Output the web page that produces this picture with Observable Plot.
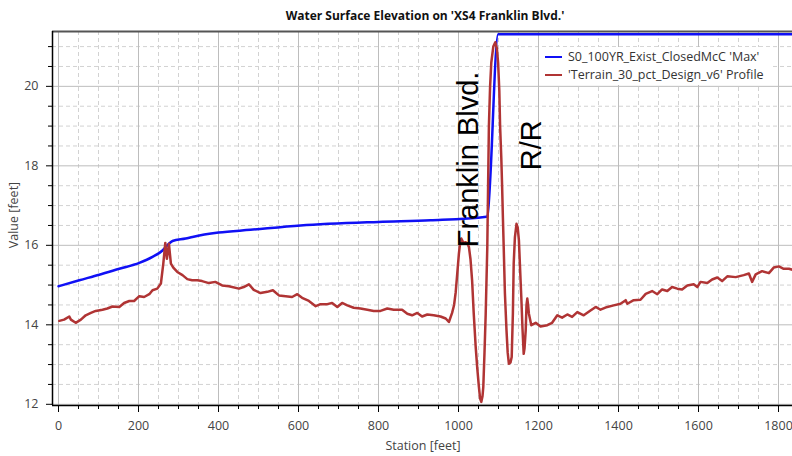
<!DOCTYPE html>
<html><head><meta charset="utf-8">
<script src="https://cdn.jsdelivr.net/npm/d3@7"></script>
<script src="https://cdn.jsdelivr.net/npm/@observablehq/plot@0.6"></script>
<style>
body{margin:0;background:#fff;}
#wrap{position:relative;width:792px;height:456px;overflow:hidden;font-family:"Open Sans",sans-serif;background:#fff;}
#title{position:absolute;left:0;width:850px;top:8px;text-align:center;font-weight:bold;font-size:12px;color:#111;line-height:16px;}
#chart{position:absolute;left:0;top:24px;}
#ylab{position:absolute;left:13px;top:215px;transform:translate(-50%,-50%) rotate(-90deg);font-size:12.5px;color:#444;white-space:nowrap;}
#xlab{position:absolute;left:423px;top:445px;transform:translate(-50%,-50%);font-size:12.5px;color:#444;white-space:nowrap;}
#legend{position:absolute;left:541px;top:47px;background:#fff;padding:1px 6px 1px 4px;font-size:12.5px;color:#333;line-height:18px;}
.row{display:flex;align-items:center;white-space:nowrap;}
.sw{width:17px;height:0;border-top:2.5px solid;margin-right:6px;}
</style></head>
<body><div id="wrap">
<div id="title">Water Surface Elevation on 'XS4 Franklin Blvd.'</div>
<div id="chart"></div>
<div id="ylab">Value [feet]</div>
<div id="xlab">Station [feet]</div>
<div id="legend"></div>
</div>
<script>
const seriesNames = ["S0_100YR_Exist_ClosedMcC 'Max'", "'Terrain_30_pct_Design_v6' Profile"];
const seriesColors = ["#1010f5", "#b03434"];

const wseStation = [0,52,102,152,202,235,260,272,285,318,335,400,480,605,800,930,1070,1072,1099,1840];
const wseValue   = [14.97,15.12,15.26,15.41,15.56,15.71,15.87,16.0,16.11,16.17,16.21,16.32,16.39,16.50,16.59,16.63,16.72,16.73,21.31,21.31];

const terrainStation = [2,14,27,31,43,56,68,81,93,110,122,135,152,164,177,189,202,214,227,235,247,256,262,267,271,276,281,287,297,310,322,334,347,359,376,392,409,426,451,463,476,488,505,522,536,551,568,584,597,609,626,643,655,672,684,697,709,722,738,755,772,788,805,822,838,859,872,884,897,909,922,938,955,968,976,984,989,993,997,1001,1004,1007,1013,1018,1022,1026,1030,1034,1038,1043,1047,1051,1054,1057,1060,1062,1065,1068,1072,1074,1076,1079,1082,1087,1092,1096,1099,1102,1104,1107,1109,1111,1113,1116,1120,1123,1126,1130,1133,1136,1138,1141,1145,1148,1151,1154,1157,1160,1163,1165,1168,1170,1172,1174,1176,1182,1193,1205,1222,1234,1247,1259,1272,1284,1297,1313,1330,1343,1355,1372,1388,1405,1418,1422,1438,1455,1468,1484,1497,1509,1522,1534,1547,1559,1572,1588,1597,1605,1622,1634,1647,1659,1672,1693,1713,1726,1734,1743,1759,1776,1788,1801,1813,1826,1840];
const terrainValue = [14.10,14.13,14.21,14.13,14.05,14.13,14.24,14.30,14.35,14.38,14.41,14.46,14.45,14.55,14.60,14.60,14.72,14.70,14.77,14.87,14.91,15.04,15.54,16.06,15.66,16.04,15.54,15.44,15.33,15.25,15.15,15.12,15.12,15.10,15.05,15.08,14.99,14.97,14.91,14.95,15.02,14.88,14.80,14.83,14.87,14.74,14.72,14.70,14.77,14.68,14.60,14.47,14.52,14.52,14.55,14.45,14.55,14.49,14.43,14.41,14.38,14.35,14.35,14.41,14.38,14.38,14.28,14.24,14.30,14.21,14.26,14.24,14.21,14.16,14.07,14.30,14.50,14.82,15.30,15.79,16.05,16.17,16.05,16.08,16.05,15.96,15.65,15.12,14.30,13.44,12.90,12.44,12.15,12.06,12.20,12.44,13.30,14.28,15.96,17.50,19.0,20.0,20.6,21.0,21.11,20.95,20.6,19.9,19.0,18.2,17.5,16.7,15.96,14.8,13.86,13.30,13.02,13.05,13.19,14.30,15.54,16.20,16.54,16.45,16.13,15.40,14.70,13.90,13.27,13.40,13.86,14.50,14.66,14.50,14.28,13.99,14.05,13.96,13.99,14.05,14.24,14.18,14.26,14.20,14.32,14.24,14.36,14.45,14.38,14.45,14.49,14.53,14.62,14.53,14.62,14.63,14.78,14.85,14.77,14.89,14.85,14.95,14.91,14.89,14.99,15.02,14.95,15.08,15.05,15.14,15.19,15.10,15.22,15.20,15.25,15.29,15.08,15.27,15.35,15.30,15.44,15.47,15.41,15.41,15.37];

const annLabels = ["Franklin Blvd.", "R/R"];
const annStation = [1026, 1182];
const annValue = [18.16, 18.52];

const xMajorTicks = [0,200,400,600,800,1000,1200,1400,1600,1800];
const xMinorTicks = d3.range(0, 1801, 50).filter(v => v % 200 !== 0);
const yMajorTicks = [12,14,16,18,20];
const yMinorTicks = d3.range(12.5, 21.01, 0.5).filter(v => v % 2 !== 0);

const xDomain = [-15, 1835];
const yDomain = [11.97, 21.38];

const wse = wseStation.map((s, i) => ({s, v: wseValue[i]}));
const terrain = terrainStation.map((s, i) => ({s, v: terrainValue[i]}));
const ann = annLabels.map((t, i) => ({t, s: annStation[i], v: annValue[i]}));

const chart = Plot.plot({
  width: 792, height: 432,
  marginLeft: 52, marginRight: 0, marginTop: 7, marginBottom: 51,
  x: {domain: xDomain},
  y: {domain: yDomain},
  style: {fontFamily: "'Open Sans', sans-serif", fontSize: "12.5px", background: "#fff"},
  marks: [
    Plot.ruleX(xMinorTicks, {stroke: "#d2d2d2", strokeDasharray: "4,3", strokeWidth: 1}),
    Plot.ruleY(yMinorTicks, {stroke: "#d2d2d2", strokeDasharray: "4,3", strokeWidth: 1}),
    Plot.ruleX(xMajorTicks, {stroke: "#bdbdbd", strokeWidth: 1}),
    Plot.ruleY(yMajorTicks, {stroke: "#bdbdbd", strokeWidth: 1}),
    Plot.ruleY([yDomain[1]], {stroke: "#555", strokeWidth: 2}),
    Plot.line(wse, {x: "s", y: "v", stroke: seriesColors[0], strokeWidth: 2.5, curve: "monotone-x"}),
    Plot.line(terrain, {x: "s", y: "v", stroke: seriesColors[1], strokeWidth: 2.5, strokeLinejoin: "round"}),
    Plot.text(ann, {x: "s", y: "v", text: "t", rotate: -90, fontSize: 29, fontFamily: "'Liberation Sans', Arial, sans-serif", fill: "#000", textAnchor: "middle", lineAnchor: "middle"}),
    Plot.ruleX([xDomain[0]], {stroke: "#000", strokeWidth: 1.5}),
    Plot.ruleY([yDomain[0]], {stroke: "#000", strokeWidth: 1.5}),
    Plot.axisX(xMinorTicks, {tickSize: 4, tickFormat: () => "", stroke: "#000", label: null}),
    Plot.axisX(xMajorTicks, {tickSize: 7, tickPadding: 9, tickFormat: d => String(d), stroke: "#000", fill: "#444", label: null}),
    Plot.axisY(yMinorTicks, {tickSize: 4, tickFormat: () => "", stroke: "#000", label: null}),
    Plot.axisY(yMajorTicks, {tickSize: 6, tickPadding: 8, tickFormat: d => String(d), stroke: "#000", fill: "#444", label: null})
  ]
});
document.getElementById("chart").appendChild(chart);

const leg = document.getElementById("legend");
seriesNames.forEach((n, i) => {
  const r = document.createElement("div");
  r.className = "row";
  const sw = document.createElement("div");
  sw.className = "sw";
  sw.style.borderTopColor = seriesColors[i];
  const t = document.createElement("span");
  t.textContent = n;
  r.appendChild(sw); r.appendChild(t);
  leg.appendChild(r);
});
</script>
</body></html>
